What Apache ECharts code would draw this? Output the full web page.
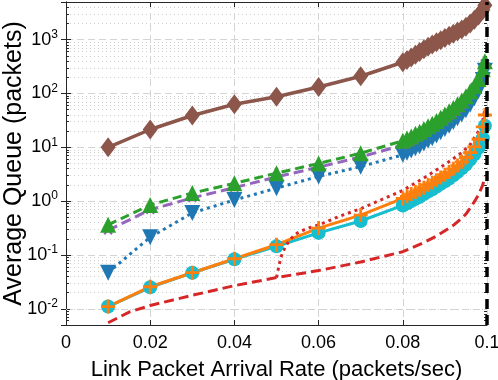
<!DOCTYPE html>
<html>
<head>
<meta charset="utf-8">
<script src="https://cdn.jsdelivr.net/npm/echarts@6/dist/echarts.min.js"></script>
<style>
html, body { margin: 0; padding: 0; background: #fff; }
#chart { width: 498px; height: 380px; }
</style>
</head>
<body>
<div id="chart"></div>
<script>
// arrival rates for the marked curves (coarse 0.01 steps, then dense near capacity)
const rates = [0.01, 0.02, 0.03, 0.04, 0.05, 0.06, 0.07, 0.08,
    0.081, 0.082, 0.083, 0.084, 0.085, 0.086, 0.087, 0.088, 0.089, 0.09,
    0.091, 0.092, 0.093, 0.094, 0.095, 0.096, 0.097, 0.098, 0.099, 0.0995];

const brownQ = [10, 21.4, 38.9, 63.1, 87.1, 132, 209, 380,
    417, 468, 525, 589, 661, 741, 813, 891, 977, 1072,
    1175, 1288, 1413, 1549, 1738, 1995, 2344, 2818, 3548, 4365];
const greenQ = [0.363, 0.851, 1.41, 2.14, 3.31, 5.01, 7.76, 13.2,
    14.5, 15.8, 17.8, 19.5, 21.9, 24.5, 27.5, 30.9, 35.5, 40.7,
    46.8, 53.7, 63.1, 74.1, 89.1, 110, 138, 186, 282, 398];
const purpleQ = [0.288, 0.692, 1.15, 1.78, 2.82, 4.27, 6.61, 11.0,
    12.0, 13.2, 14.8, 16.2, 18.2, 20.4, 22.9, 25.7, 29.5, 33.9,
    38.9, 44.7, 52.5, 61.7, 75.9, 93.3, 120, 162, 251, 363];
const blueQ = [0.0468, 0.214, 0.603, 1.05, 1.74, 2.88, 4.37, 7.24,
    7.94, 8.71, 9.55, 10.5, 11.7, 13.2, 14.8, 16.6, 19.1, 21.9,
    25.1, 29.5, 34.7, 40.7, 49.0, 61.7, 81.3, 112, 178, 263];
const orangeQ = [0.011, 0.0257, 0.0468, 0.0851, 0.155, 0.316, 0.55, 1.12,
    1.23, 1.35, 1.48, 1.62, 1.78, 2.0, 2.19, 2.45, 2.75, 3.09,
    3.47, 3.98, 4.57, 5.37, 6.46, 7.94, 10.2, 14.1, 24.0, 39.8];
const cyanQ = [0.011, 0.0251, 0.0468, 0.0832, 0.145, 0.257, 0.427, 0.832,
    0.912, 1.0, 1.1, 1.2, 1.35, 1.51, 1.66, 1.86, 2.09, 2.34,
    2.63, 3.02, 3.47, 4.07, 4.79, 5.89, 7.41, 9.77, 14.8, 25.1];

// red dotted curve
const redDotRates = [0.05, 0.051, 0.052, 0.053, 0.054, 0.055, 0.056, 0.058, 0.06, 0.062,
    0.065, 0.07, 0.075, 0.08, 0.085, 0.09, 0.094, 0.096, 0.098, 0.099, 0.0995];
const redDotQ = [0.038, 0.089, 0.138, 0.182, 0.224, 0.257, 0.282, 0.324, 0.363, 0.417,
    0.525, 0.724, 1.07, 1.58, 2.69, 4.79, 7.94, 11.2, 20.0, 31.6, 52.5];

// red dashed curve
const redDashRates = [0.01, 0.015, 0.02, 0.03, 0.04, 0.05, 0.06, 0.07, 0.08, 0.085,
    0.088, 0.09, 0.092, 0.094, 0.095, 0.096, 0.097, 0.098, 0.099, 0.0995];
const redDashQ = [0.0055, 0.0087, 0.0115, 0.0178, 0.0269, 0.038, 0.0513, 0.0741, 0.115, 0.17,
    0.224, 0.282, 0.355, 0.479, 0.575, 0.741, 0.977, 1.32, 2.0, 2.82];

const capacity = 0.1;

const FONT = 'Liberation Sans, Arial, sans-serif';
const AXIS_COLOR = '#262626';

function pairs(xs, ys) {
    return xs.map((x, i) => [x, ys[i]]);
}

// minor decade lines 2..9 x 10^k
const minorVals = [];
for (let k = -3; k <= 3; k++) {
    for (let m = 2; m <= 9; m++) {
        const v = m * Math.pow(10, k);
        if (v > 0.005 && v < 5000) minorVals.push(+v.toPrecision(2));
    }
}

const plusPath = 'path://M4,0 L6,0 L6,4 L10,4 L10,6 L6,6 L6,10 L4,10 L4,6 L0,6 L0,4 L4,4 Z';

let chart = echarts.init(document.getElementById('chart'));

function curve(name, xs, ys, color, lineType, width, symbol, size, extra) {
    return Object.assign({
        name: name,
        type: 'line',
        data: pairs(xs, ys),
        symbol: symbol,
        symbolSize: size,
        showSymbol: symbol !== 'none',
        itemStyle: { color: color, borderWidth: 0, opacity: 1 },
        lineStyle: { color: color, width: width, type: lineType },
        z: 3
    }, extra || {});
}

chart.setOption({
    animation: false,
    grid: { left: 66, right: 11, top: 2, bottom: 55, outerBoundsMode: 'none', containLabel: false },
    xAxis: [{
        type: 'value',
        min: 0,
        max: 0.1,
        interval: 0.02,
        name: 'Link Packet Arrival Rate (packets/sec)',
        nameLocation: 'middle',
        nameGap: 34,
        nameMoveOverlap: false,
        nameTextStyle: { fontFamily: FONT, fontSize: 22, color: '#000' },
        axisLine: { show: true, lineStyle: { color: AXIS_COLOR, width: 1 } },
        axisTick: { show: true, inside: true, length: 5, lineStyle: { color: AXIS_COLOR } },
        axisLabel: {
            fontFamily: FONT, fontSize: 18, color: '#000', margin: 9,
            formatter: v => v === 0 ? '0' : String(+v.toFixed(2))
        },
        splitLine: { show: true, lineStyle: { color: '#d4d4d4', type: [7, 4], width: 1 } }
    }, {
        type: 'value',
        position: 'top',
        min: 0,
        max: 0.1,
        interval: 0.02,
        axisLine: { show: true, lineStyle: { color: AXIS_COLOR, width: 1 } },
        axisTick: { show: true, inside: true, length: 5, lineStyle: { color: AXIS_COLOR } },
        axisLabel: { show: false },
        splitLine: { show: false }
    }],
    yAxis: [{
        type: 'log',
        min: 0.005,
        max: 5000,
        name: 'Average Queue (packets)',
        nameLocation: 'middle',
        nameGap: 39,
        nameMoveOverlap: false,
        nameTextStyle: { fontFamily: FONT, fontSize: 25, color: '#000' },
        axisLine: { show: true, lineStyle: { color: AXIS_COLOR, width: 1 } },
        axisTick: { show: true, inside: true, length: 5, lineStyle: { color: AXIS_COLOR } },
        axisLabel: {
            margin: 8,
            showMinLabel: false,
            showMaxLabel: false,
            formatter: function (v) {
                const e = Math.round(Math.log10(v));
                return '{b|10}{s|' + e + '}';
            },
            rich: {
                b: { fontFamily: FONT, fontSize: 18, color: '#000', lineHeight: 22 },
                s: { fontFamily: FONT, fontSize: 12, color: '#000', lineHeight: 12, verticalAlign: 'top' }
            }
        },
        splitLine: { show: true, lineStyle: { color: '#d4d4d4', type: [7, 4], width: 1 } }
    }, {
        type: 'log',
        position: 'right',
        min: 0.005,
        max: 5000,
        axisLine: { show: true, lineStyle: { color: AXIS_COLOR, width: 1 } },
        axisTick: { show: true, inside: true, length: 5, lineStyle: { color: AXIS_COLOR } },
        axisLabel: { show: false },
        splitLine: { show: false }
    }],
    series: [
        {
            // minor grid lines
            type: 'line',
            data: [],
            z: 1,
            silent: true,
            markLine: {
                z: 1,
                silent: true,
                symbol: 'none',
                label: { show: false },
                lineStyle: { color: '#cfcfcf', type: [1, 3], width: 1 },
                data: minorVals.map(v => ({ yAxis: v }))
            }
        },
        {
            // minor ticks on left and right edges
            type: 'line',
            data: [],
            z: 2,
            silent: true,
            markLine: {
                z: 2,
                silent: true,
                symbol: 'none',
                label: { show: false },
                lineStyle: { color: AXIS_COLOR, type: 'solid', width: 1 },
                data: minorVals.map(v => [{ coord: [0, v] }, { coord: [0.0007, v] }])
                    .concat(minorVals.map(v => [{ coord: [0.0993, v] }, { coord: [0.1, v] }]))
            }
        },
        curve('cyan', rates, cyanQ, '#17becf', 'solid', 3, 'circle', 14),
        curve('orange', rates, orangeQ, '#ff7f0e', 'solid', 3, plusPath, 14),
        curve('redDash', redDashRates, redDashQ, '#d62728', [10, 5], 3, 'none', 0),
        curve('redDot', redDotRates, redDotQ, '#d62728', [3, 4], 3, 'none', 0),
        curve('blue', rates, blueQ, '#1f77b4', [3, 4], 3, 'triangle', 16, { symbolRotate: 180 }),
        curve('purple', rates, purpleQ, '#9467bd', [10, 5], 3, plusPath, 11, { symbolRotate: 45 }),
        curve('green', rates, greenQ, '#2ca02c', [9, 5], 3, 'triangle', 16),
        curve('brown', rates, brownQ, '#8c564b', 'solid', 3.5, 'diamond', [15, 20]),
        {
            // capacity line
            type: 'line',
            data: [],
            z: 10,
            silent: true,
            markLine: {
                z: 10,
                silent: true,
                symbol: 'none',
                label: { show: false },
                lineStyle: { color: '#000', type: [10, 6], width: 3.5 },
                data: [{ xAxis: capacity }]
            }
        }
    ]
});
</script>
</body>
</html>
